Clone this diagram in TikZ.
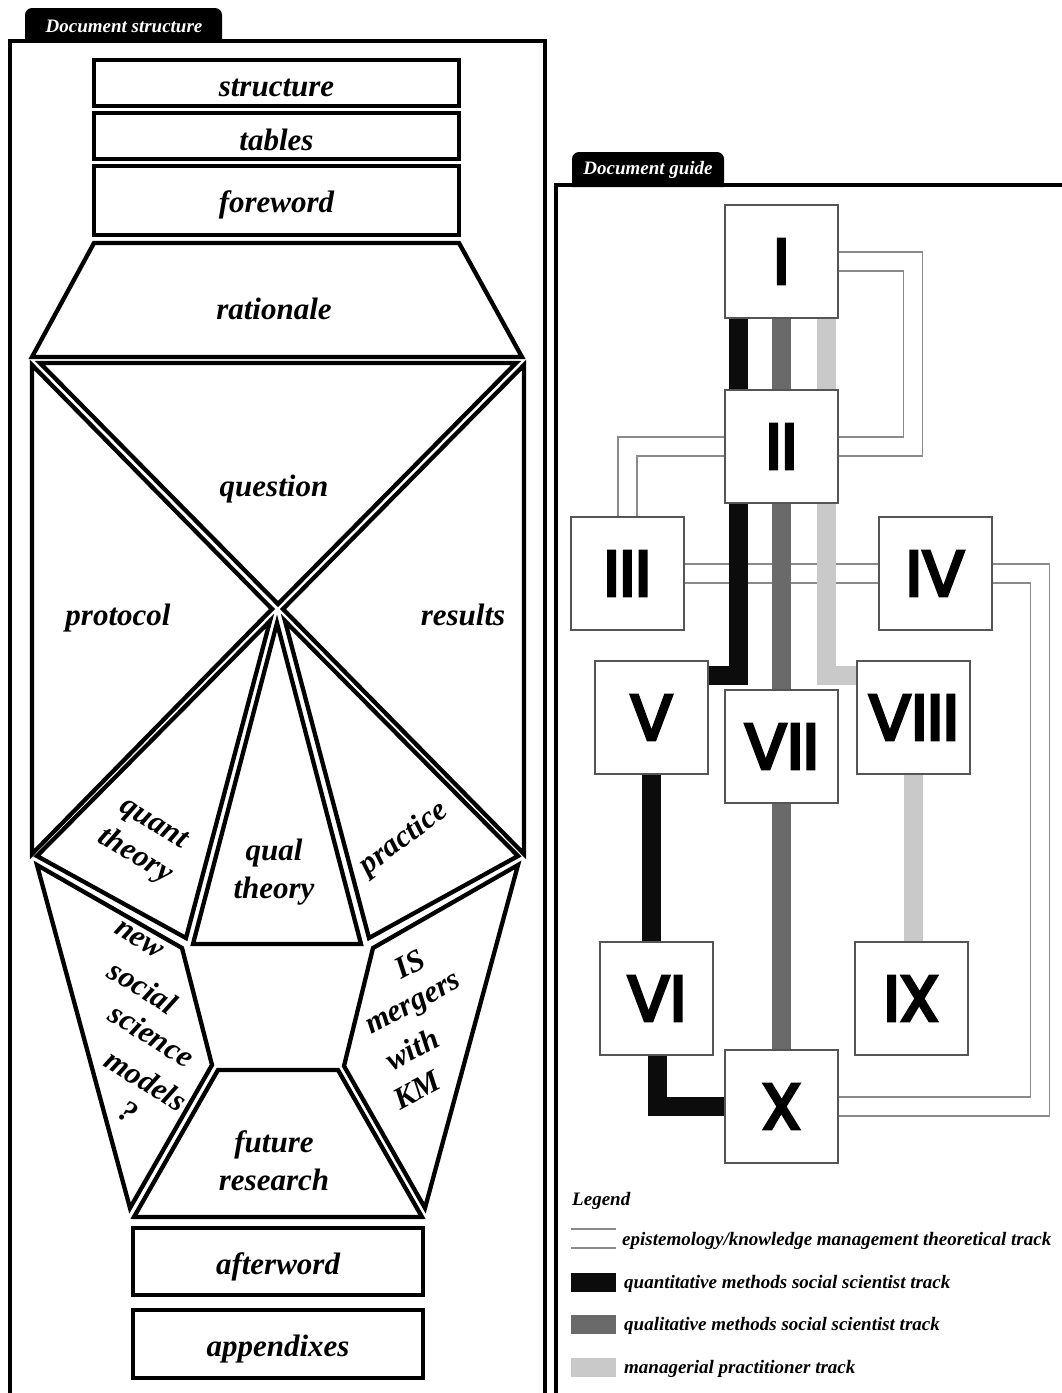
\documentclass[tikz,border=0pt]{standalone}
\usepackage{fontspec}
\setmainfont{Liberation Serif}
\newfontfamily\romfont{Poppins}[FakeBold=5]
\usetikzlibrary{calc}
\definecolor{trackA}{HTML}{0C0C0C}
\definecolor{trackB}{HTML}{6A6A6A}
\definecolor{trackC}{HTML}{C9C9C9}
\definecolor{epi}{HTML}{8A8A8A}
\definecolor{boxline}{HTML}{555555}
\newcommand\mylblfont{\fontsize{31}{33}\selectfont\bfseries\itshape}
\newcommand\mysmallfont{\fontsize{19}{21}\selectfont\bfseries\itshape}
\newcommand\mynumfont{\fontsize{64}{68}\romfont}
\begin{document}
\begin{tikzpicture}[x=1pt,y=-1pt,
 region/.style={draw=black,line width=4.3pt,line join=miter,miter limit=20},
 lbox/.style={draw=black,line width=4.3pt,inner sep=0pt},
 lbl/.style={inner sep=0pt,font=\mylblfont},
 lblb/.style={inner sep=0pt,font=\mylblfont,anchor=base},
 tabtxt/.style={text=white,font=\mysmallfont,inner sep=0pt},
 rbox/.style={draw=boxline,line width=1.4pt,fill=white,minimum width=113pt,minimum height=113pt,inner sep=0pt,font=\mynumfont},
 trk/.style={line width=19pt},
 epiline/.style={draw=epi,line width=1.3pt,double=white,double distance=17.7pt,line join=miter},
 leg/.style={anchor=base west,inner sep=0pt,font=\mysmallfont}
]
\useasboundingbox (0,0) rectangle (1061,1393);
\fill[white] (0,0) rectangle (1061,1393);

% ---------- Document structure panel ----------
\fill (25,42) -- (25,15) arc[start angle=180,end angle=270,radius=7] -- (215,8) arc[start angle=270,end angle=360,radius=7] -- (222,42) -- cycle;
\node[tabtxt] (tabL) at (124,26) {Document structure};
\draw[line width=4pt] (10,1400) -- (10,41) -- (545,41) -- (545,1400);

\node[lbox,minimum width=365pt,minimum height=46pt] (structure) at (276.5,83) {};
\node[lbox,minimum width=365pt,minimum height=46pt] (tables) at (276.5,136) {};
\node[lbox,minimum width=365pt,minimum height=69pt] (foreword) at (276.5,200.5) {};
\node[lbl] (structureT) at ($(structure)+(0,5)$) {structure};
\node[lbl] (tablesT) at ($(tables)+(0,4)$) {tables};
\node[lbl] (forewordT) at ($(foreword)+(0,4)$) {foreword};

\draw[region] (94,243) -- (459,243) -- (522,357) -- (32,357) -- cycle;
\draw[region] (40,363) -- (516,363) -- (278,604) -- cycle;
\draw[region] (32,365) -- (272,609) -- (32,854) -- cycle;
\draw[region] (524,365) -- (283,609) -- (524,854) -- cycle;
\draw[region] (270,621) -- (37,856) -- (186,938) -- cycle;
\draw[region] (277,623) -- (193,944) -- (361,944) -- cycle;
\draw[region] (285,621) -- (518,856) -- (369,938) -- cycle;
\draw[region] (37,865) -- (182,948) -- (212,1065) -- (130,1208) -- cycle;
\draw[region] (518,865) -- (373,948) -- (344,1066) -- (425,1208) -- cycle;
\draw[region] (218,1070) -- (338,1070) -- (422,1217) -- (134,1217) -- cycle;

\node[lblb] (rationale) at (274,319) {rationale};
\node[lblb] (question) at (274,496) {question};
\node[lblb] (protocol) at (118,625) {protocol};
\node[lblb] (results) at (463,625) {results};
\node[lbl,rotate=-31] (quant) at (153,825) {quant};
\node[lbl,rotate=-31] (theoryA) at (135,856) {theory};
\node[lblb] (qual) at (274,860) {qual};
\node[lblb] (theoryB) at (274,898) {theory};
\node[lbl,rotate=37] (practice) at (404,839) {practice};
\node[lbl,rotate=-32] (new) at (139,940) {new};
\node[lbl,rotate=-32] (social) at (143,987) {social};
\node[lbl,rotate=-32] (science) at (152,1035) {science};
\node[lbl,rotate=-32] (models) at (146,1080) {models};
\node[lbl,rotate=-32] (qmark) at (128,1112) {?};
\node[lbl,rotate=28] (IS) at (410,964) {IS};
\node[lbl,rotate=28] (mergers) at (415,1007) {mergers};
\node[lbl,rotate=28] (with) at (412,1049) {with};
\node[lbl,rotate=28] (KM) at (417,1090) {KM};
\node[lblb] (future) at (274,1152) {future};
\node[lblb] (research) at (274,1190) {research};

\node[lbox,minimum width=290pt,minimum height=67pt] (afterword) at (278,1261.5) {};
\node[lbox,minimum width=290pt,minimum height=68pt] (appendixes) at (278,1344) {};
\node[lbl] (afterwordT) at ($(afterword)+(0,5)$) {afterword};
\node[lbl] (appendixesT) at ($(appendixes)+(0,5)$) {appendixes};

% ---------- Document guide panel ----------
\fill (572,187) -- (572,159) arc[start angle=180,end angle=270,radius=7] -- (717,152) arc[start angle=270,end angle=360,radius=7] -- (724,187) -- cycle;
\node[tabtxt] (tabR) at (648,170) {Document guide};
\draw[line width=4pt] (556,1400) -- (556,185) -- (1065,185);

\coordinate (c1) at (781.5,261.5);
\coordinate (c2) at (781.5,446.5);
\coordinate (c3) at (627.5,573.5);
\coordinate (c4) at (935.5,573.5);
\coordinate (c5) at (651.5,717.5);
\coordinate (c6) at (656.5,998.5);
\coordinate (c7) at (781.5,746.5);
\coordinate (c8) at (913.5,717.5);
\coordinate (c9) at (911.5,998.5);
\coordinate (c10) at (781.5,1106.5);

\node[rbox] (b1) at (c1) {I};
\node[rbox] (b2) at (c2) {II};
\node[rbox] (b3) at (c3) {III};
\node[rbox] (b4) at (c4) {IV};
\node[rbox] (b5) at (c5) {V};
\node[rbox] (b6) at (c6) {VI};
\node[rbox] (b7) at (c7) {VII};
\node[rbox] (b8) at (c8) {VIII};
\node[rbox] (b9) at (c9) {IX};
\node[rbox] (b10) at (c10) {X};

% epistemology connectors
\draw[epiline] (b1.east) -- ++(74.5,0) |- (b2.east);
\draw[epiline] (b2.west) -| (b3.north);
\draw[epiline] (b3.east) -- (b4.west);
\draw[epiline] (b4.east) -- ++(47,0) |- (b10.east);

% tracks
\draw[trk,trackA] ($(b1.south west)+(14,0)$) -- ($(b2.north west)+(14,0)$);
\draw[trk,trackA,line join=miter] ($(b2.south west)+(14,0)$) |- ($(b5.north east)+(0,15)$);
\draw[trk,trackA] (b5.south) -- (b5.south |- b6.north);
\draw[trk,trackA,line join=miter] ($(b6.south)+(1,0)$) |- (b10.west);
\draw[trk,trackB] (b1.south) -- (b2.north);
\draw[trk,trackB] (b2.south) -- (b7.north);
\draw[trk,trackB] (b7.south) -- (b10.north);
\draw[trk,trackC] ($(b1.south east)+(-12,0)$) -- ($(b2.north east)+(-12,0)$);
\draw[trk,trackC,line join=miter] ($(b2.south east)+(-12,0)$) |- ($(b8.north west)+(0,15)$);
\draw[trk,trackC] (b8.south) -- (b8.south |- b9.north);

% boxes on top of the tracks
\foreach \n/\t in {b1/I,b2/II,b3/III,b4/IV,b5/V,b6/VI,b7/VII,b8/VIII,b9/IX,b10/X}{
  \node[rbox] at (\n) {\t};
}

% legend
\node[leg] (legend) at (572,1205) {Legend};
\coordinate (e1) at (571,1238.5);
\coordinate (e2) at (616,1238.5);
\draw[epiline] (e1) -- (e2);
\node[leg] (legE) at (622,1245) {epistemology/knowledge management theoretical track};
\fill[trackA] (571,1273) rectangle (616,1292);
\node[leg] (legA) at (624,1288) {quantitative methods social scientist track};
\fill[trackB] (571,1315) rectangle (616,1334);
\node[leg] (legB) at (624,1330) {qualitative methods social scientist track};
\fill[trackC] (571,1358) rectangle (616,1377);
\node[leg] (legC) at (624,1373) {managerial practitioner track};
\end{tikzpicture}
\end{document}
